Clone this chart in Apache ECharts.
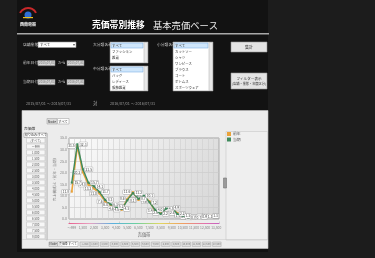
<!DOCTYPE html>
<html>
<head>
<meta charset="utf-8">
<script src="https://cdn.jsdelivr.net/npm/echarts@6/dist/echarts.min.js"></script>
<style>
html, body { margin: 0; padding: 0; background: #1c1c1c; }
#main { width: 375px; height: 258px; }
</style>
</head>
<body>
<div id="main"></div>
<script>
// 売価帯 (x軸カテゴリ)
var categories = ['～999', '1,000', '1,500', '2,000', '2,500', '3,000', '3,500', '4,000', '4,500',
    '5,000', '5,500', '6,000', '6,500', '7,000', '7,500', '8,000', '8,500', '9,000', '9,500',
    '10,000', '10,500', '11,000', '11,500', '12,000', '12,500', '13,000', '13,500'];
var seriesNames = ['前年', '当期'];
// 売上構成比 (%)
var lastYear = [11.8, 31.5, 20.2, 14.8, 13.2, 11.0, 7.6, 6.0, 4.6, 4.0, 8.6, 11.6, 8.2, 9.6, 7.6,
    3.4, 2.6, 4.2, 4.4, 2.6, 1.5, 0.9, 0.6, 0.8, 1.2, 1.5];
var thisYear = [15.7, 32.3, 21.5, 15.7, 14.1, 11.7, 8.3, 6.3, 5.2, 4.3, 8.1, 11.2, 8.7, 10.1, 7.2,
    4.0, 2.2, 4.5, 4.9, 2.2, 1.3, 0.7, 0.7, 0.9, 1.1, 1.3];
var yMin = 0, yMax = 35, yStep = 5;

var bigClass = ['すべて', 'ファッション', '雑貨', 'インテリア'];
var midClass = ['すべて', 'バッグ', 'レディース', '服飾雑貨'];
var smallClass = ['すべて', 'カットソー', 'シャツ', 'ワンピース', 'ブラウス', 'コート', 'ボトムス', 'スポーツウェア'];

var FONT = '"Noto Sans CJK JP"';
var mychart = echarts.init(document.getElementById('main'));

function R(x, y, w, h, fill, stroke, z) {
    return { type: 'rect', silent: true, z: z == null ? 1 : z,
        shape: { x: x, y: y, width: w, height: h },
        style: { fill: fill, stroke: stroke || null, lineWidth: 0.6 } };
}
function T(x, y, s, size, color, align, weight) {
    return { type: 'text', silent: true, z: 6, x: x, y: y,
        style: { text: s, fill: color, font: (weight || 'normal') + ' ' + size + 'px ' + FONT,
            textAlign: align || 'left', textVerticalAlign: 'middle' } };
}
function listBox(x, y, w, h, items) {
    var g = [R(x, y, w, h, '#fff', '#888', 2)];
    items.forEach(function (s, i) {
        var iy = y + 1 + i * 6;
        if (iy + 5 > y + h) return;
        if (i === 0) g.push(R(x + 1, iy, w - 6, 5, '#cfe6fb', '#7fb4e6', 3));
        g.push(T(x + 2, iy + 2.7, s, 3.4, '#333'));
    });
    g.push(R(x + w - 4, y + 0.5, 3.5, h - 1, '#e8e8e8', '#bbb', 3));
    return g;
}

var gfx = [];
// 背景
gfx.push(R(17, 0, 251, 252, '#121212', null, -20));
// ロゴ
gfx.push({ type: 'arc', silent: true, z: 2, shape: { cx: 28, cy: 17, r: 9, startAngle: Math.PI * 1.15, endAngle: Math.PI * 1.85 },
    style: { stroke: '#c8282a', lineWidth: 2, fill: null } });
gfx.push({ type: 'circle', silent: true, z: 2, shape: { cx: 28, cy: 15, r: 3.5 }, style: { fill: '#2f6fd6' } });
gfx.push(R(23, 17, 10, 1.2, '#e8c020', null, 2));
gfx.push(T(28, 24, '西南電器', 4, '#fff', 'center', 'bold'));
// タイトル
gfx.push(T(92, 25, '売価帯別推移', 8.8, '#fff', 'left', 'bold'));
gfx.push(T(153, 25, '基本売価ベース', 9.3, '#eee', 'left'));
gfx.push(R(17, 33, 252, 1.5, '#a8a8a8', null, 2));
// 検索条件
gfx.push(T(23, 44.5, '店舗業態', 3.8, '#ccc'));
gfx.push(R(38, 42, 38, 5.5, '#fff', '#999', 2));
gfx.push(T(40, 44.8, 'すべて', 3.4, '#333'));
gfx.push(T(73, 44.8, '▾', 4, '#555'));
gfx.push(T(23, 63, '前年日付', 3.8, '#ccc'));
gfx.push(R(38, 60.5, 17, 5.2, '#d8d8d8', '#888', 2));
gfx.push(T(39, 63.1, '2015/07/01', 3, '#777'));
gfx.push(T(58, 63, 'から', 3.8, '#ccc'));
gfx.push(R(67, 60.5, 17, 5.2, '#d8d8d8', '#888', 2));
gfx.push(T(68, 63.1, '2015/07/31', 3, '#777'));
gfx.push(T(23, 82, '当期日付', 3.8, '#ccc'));
gfx.push(R(38, 79.5, 17, 5.2, '#d8d8d8', '#888', 2));
gfx.push(T(39, 82.1, '2016/07/01', 3, '#777'));
gfx.push(T(58, 82, 'から', 3.8, '#ccc'));
gfx.push(R(67, 79.5, 17, 5.2, '#d8d8d8', '#888', 2));
gfx.push(T(68, 82.1, '2016/07/31', 3, '#777'));
gfx.push(T(93, 44.5, '大分類名称', 3.8, '#ccc'));
gfx = gfx.concat(listBox(110, 42, 38, 21, bigClass));
gfx.push(T(93, 69, '中分類名称', 3.8, '#ccc'));
gfx = gfx.concat(listBox(110, 66, 38, 25, midClass));
gfx.push(T(157, 44.5, '小分類名称', 3.8, '#ccc'));
gfx = gfx.concat(listBox(173, 42, 40, 49, smallClass));
gfx.push(R(231, 42, 36, 10, '#e4e4e4', '#999', 2));
gfx.push(T(249, 47, '集計', 4, '#333', 'center'));
gfx.push(R(231, 73, 36, 16, '#e4e4e4', '#999', 2));
gfx.push(T(249, 79, 'フィルター表示', 3.6, '#333', 'center'));
gfx.push(T(249, 84, '(店舗・業態・年度区分)', 3.2, '#333', 'center'));
gfx.push(T(26, 103.3, '2015/07/01 ～ 2015/07/31', 3.8, '#999'));
gfx.push(T(95, 103.3, '対', 4.2, '#bbb', 'center'));
gfx.push(T(110, 103.3, '2016/07/01 ～ 2016/07/31', 3.8, '#999'));
// チャートパネル
gfx.push(R(22, 110.5, 246, 138, '#ececec', '#c8c8c8', -10));
gfx.push(R(47, 118.5, 10, 5.5, '#dcdcdc', '#aaa', 2));
gfx.push(T(52, 121.3, 'Node', 3.4, '#333', 'center'));
gfx.push(R(57.5, 118.5, 11.5, 5.5, '#fff', '#aaa', 2));
gfx.push(T(63, 121.3, 'すべて', 3.2, '#333', 'center'));
// 左のフィルター
gfx.push(T(24, 129, '売価帯', 3.8, '#333'));
gfx.push(R(24, 133, 23, 4.5, '#fff', '#999', 2));
gfx.push(T(25, 135.3, '絞り込み:すべて', 3, '#333'));
var filterItems = ['(すべて)'].concat(categories);
for (var i = 0; i < 17; i++) {
    gfx.push(R(26.5, 138 + i * 6, 18.5, 4.8, '#f7f7f7', '#c4c4c4', 2));
    gfx.push(T(35.7, 140.5 + i * 6, filterItems[i], 2.9, '#555', 'center'));
}
gfx.push(R(46, 134, 1.5, 106, '#ddd', '#bbb', 2));
// 凡例の枠とスプリッター
gfx.push(R(226, 131.5, 41.5, 108.5, '#efefef', '#c8c8c8', -5));
gfx.push(R(223.5, 178, 3, 10, '#9a9a9a', '#777', 2));
// 下のタブ
gfx.push(R(49, 242, 8.5, 4.5, '#dcdcdc', '#aaa', 2));
gfx.push(T(53.2, 244.4, 'Node', 2.9, '#333', 'center'));
gfx.push(R(58, 241.5, 20, 5, '#fff', '#aaa', 2));
gfx.push(T(68, 244.1, '売価帯 すべて', 2.9, '#333', 'center'));
for (var j = 0; j < 14; j++) {
    var tx = 80 + j * 10.2;
    gfx.push(R(tx, 242, j === 0 ? 10 : 8.5, 4.5, '#e0e0e0', '#b0b0b0', 2));
    gfx.push(T(tx + (j === 0 ? 5 : 4.2), 244.4, categories[j * 2], 2.5, '#777', 'center'));
}
gfx.push(R(22, 239.5, 246, 0.6, '#c8c8c8', null, 2));

var colorLine = ['#eaa23a', '#3e8a5c'];
function labelOpt(pos) {
    return {
        show: true, position: pos, distance: 1,
        fontSize: 3.4, fontFamily: FONT, color: '#444',
        backgroundColor: '#fff', borderColor: '#999', borderWidth: 0.4, padding: [0.3, 0.6],
        formatter: function (p) { return p.value.toFixed(1); }
    };
}

option = {
    backgroundColor: '#1c1c1c',
    animation: false,
    textStyle: { fontFamily: FONT },
    graphic: { elements: gfx },
    legend: {
        data: seriesNames,
        orient: 'vertical',
        left: 227,
        top: 132,
        itemWidth: 4,
        itemHeight: 4,
        itemGap: 1.5,
        icon: 'rect',
        padding: 0,
        textStyle: { fontSize: 3.8, color: '#555', padding: [0, 0, 0, -3] }
    },
    grid: {
        show: true,
        left: 69,
        top: 138,
        width: 150,
        height: 81,
        borderColor: '#a4a4a4',
        borderWidth: 1,
        backgroundColor: new echarts.graphic.LinearGradient(0, 0, 1, 1, [
            { offset: 0, color: '#fcfcfc' },
            { offset: 1, color: '#d6d6d6' }
        ])
    },
    xAxis: [{
        type: 'category',
        data: categories,
        boundaryGap: true,
        name: '売価帯',
        nameLocation: 'middle',
        nameGap: 13,
        nameTextStyle: { fontSize: 4.2, color: '#666' },
        axisLine: { show: false },
        axisTick: { show: false },
        axisLabel: { interval: 1, fontSize: 3.3, color: '#888', margin: 7 },
        splitLine: { show: true, interval: 0, lineStyle: { color: '#cfcfcf', width: 0.6 } }
    }, {
        type: 'category',
        data: categories,
        position: 'bottom',
        offset: 4,
        axisLine: { show: true, lineStyle: { width: 1.2, color: new echarts.graphic.LinearGradient(0, 0, 1, 0, [
            { offset: 0, color: '#e85a8a' }, { offset: 0.15, color: '#e8a0c0' },
            { offset: 0.3, color: '#5ab0e0' }, { offset: 0.45, color: '#6ad0a0' },
            { offset: 0.6, color: '#e0d860' }, { offset: 0.75, color: '#f0a060' },
            { offset: 0.9, color: '#e070b0' }, { offset: 1, color: '#c060c0' }
        ]) } },
        axisTick: { show: true, length: 1.5, inside: true, lineStyle: { color: '#b0b0b0', width: 0.5 } },
        axisLabel: { show: false },
        splitLine: { show: false }
    }],
    yAxis: {
        type: 'value',
        min: yMin,
        max: yMax,
        interval: yStep,
        name: '売上構成比（前年・当期）',
        nameLocation: 'middle',
        nameRotate: 90,
        nameGap: 12,
        nameTextStyle: { fontSize: 3.8, color: '#888' },
        axisLine: { show: false },
        axisTick: { show: false },
        axisLabel: { fontSize: 3.6, color: '#888', margin: 2, formatter: function (v) { return v.toFixed(1); } },
        splitLine: { lineStyle: { color: '#c8c8c8', width: 0.6 } }
    },
    series: [{
        name: seriesNames[0],
        type: 'line',
        data: lastYear,
        symbol: 'rect',
        symbolSize: 2,
        lineStyle: { width: 1.6, color: colorLine[0] },
        itemStyle: { color: colorLine[0] },
        label: labelOpt('left'),
        z: 3
    }, {
        name: seriesNames[1],
        type: 'line',
        data: thisYear,
        symbol: 'rect',
        symbolSize: 2,
        lineStyle: { width: 1.4, color: colorLine[1] },
        itemStyle: { color: colorLine[1] },
        label: labelOpt('right'),
        z: 4
    }]
};
mychart.setOption(option);
</script>
</body>
</html>
